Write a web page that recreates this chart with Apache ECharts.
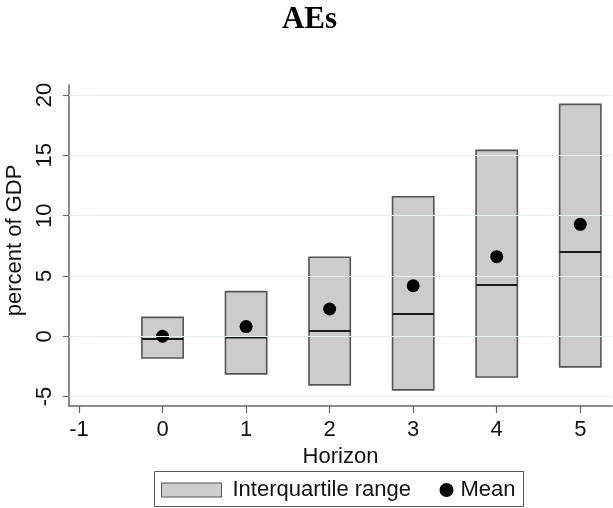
<!DOCTYPE html>
<html>
<head>
<meta charset="utf-8">
<script src="https://cdn.jsdelivr.net/npm/echarts@6/dist/echarts.min.js"></script>
<style>
html,body{margin:0;padding:0;background:#fff;}
#chart{width:613px;height:508px;}
</style>
</head>
<body>
<div id="chart"></div>
<script>
// ---- data ----
const horizons = [0, 1, 2, 3, 4, 5];
const q1Values = [-1.80, -3.12, -4.03, -4.44, -3.37, -2.54];
const medianValues = [-0.22, -0.11, 0.44, 1.85, 4.25, 6.98];
const q3Values = [1.57, 3.70, 6.55, 11.57, 15.41, 19.22];
const meanValues = [0.00, 0.80, 2.26, 4.19, 6.60, 9.28];
const xTickLabels = [-1, 0, 1, 2, 3, 4, 5];
const yTickLabels = [-5, 0, 5, 10, 15, 20];
const titleText = 'AEs';
const xName = 'Horizon';
const yName = 'percent of GDP';
const iqrName = 'Interquartile range';
const meanName = 'Mean';

// ---- build ----
const FONT = "'Liberation Sans', Arial, sans-serif";
const BOX_HALF = 0.247;
const boxData = horizons.map((h, i) => [h, q1Values[i], medianValues[i], q3Values[i]]);
const meanData = horizons.map((h, i) => [h, meanValues[i]]);

const chart = echarts.init(document.getElementById('chart'), null, {renderer: 'canvas'});
chart.setOption({
  animation: false,
  backgroundColor: '#ffffff',
  title: {
    text: titleText,
    left: 309.5,
    textAlign: 'center',
    top: 4,
    padding: 0,
    textStyle: {fontFamily: "'Liberation Serif', 'Times New Roman', serif", fontWeight: 'bold', fontSize: 31, color: '#000'}
  },
  grid: {left: 69, right: 1, top: 85, bottom: 102, containLabel: false, outerBoundsMode: 'none'},
  xAxis: {
    type: 'value',
    min: -1.12, max: 5.38,
    name: xName,
    nameLocation: 'middle',
    nameGap: 35,
    nameTextStyle: {fontFamily: FONT, fontSize: 22, color: '#111'},
    axisLine: {show: true, onZero: false, lineStyle: {color: '#666', width: 1.5}},
    axisTick: {show: true, length: 7, customValues: xTickLabels, lineStyle: {color: '#666', width: 1.2}},
    axisLabel: {show: true, customValues: xTickLabels, margin: 13, fontFamily: FONT, fontSize: 22, color: '#111'},
    splitLine: {show: false}
  },
  yAxis: {
    type: 'value',
    min: -5.78, max: 20.83,
    name: yName,
    nameLocation: 'middle',
    nameRotate: 90,
    nameGap: 32,
    nameTextStyle: {fontFamily: FONT, fontSize: 22, color: '#111', padding: [0, 0, 0, 10]},
    axisLine: {show: true, onZero: false, lineStyle: {color: '#666', width: 1.5}},
    axisTick: {show: true, length: 6, customValues: yTickLabels, lineStyle: {color: '#666', width: 1.2}},
    axisLabel: {show: true, customValues: yTickLabels, rotate: 90, margin: 13, fontFamily: FONT, fontSize: 22, color: '#111'},
    splitLine: {show: false}
  },
  legend: [
    {
      data: [{name: iqrName, icon: 'rect', itemStyle: {color: '#cccccc', borderColor: '#555', borderWidth: 1}}],
      left: 161, top: 479, padding: 0,
      itemWidth: 60, itemHeight: 14,
      textStyle: {fontFamily: FONT, fontSize: 22, color: '#111', padding: [0, 0, 0, 6]},
      selectedMode: false
    },
    {
      data: [{name: meanName, icon: 'circle', itemStyle: {color: '#000', opacity: 1}}],
      left: 439.5, top: 479, padding: 0,
      itemWidth: 14, itemHeight: 14,
      textStyle: {fontFamily: FONT, fontSize: 22, color: '#111', padding: [0, 0, 0, 2]},
      selectedMode: false
    }
  ],
  graphic: [{
    type: 'rect',
    shape: {x: 154.5, y: 471.5, width: 369, height: 35},
    style: {fill: 'none', stroke: '#555', lineWidth: 1},
    silent: true, z: 0
  }],
  series: [
    {
      type: 'line',
      name: 'grid',
      data: [],
      z: 1,
      silent: true,
      markLine: {
        silent: true,
        symbol: 'none',
        label: {show: false},
        lineStyle: {color: '#e8f0f2', width: 1.2, type: 'solid'},
        data: yTickLabels.map(v => ({yAxis: v}))
      }
    },
    {
      type: 'custom',
      name: iqrName,
      z: 3,
      itemStyle: {color: '#cccccc'},
      data: boxData,
      encode: {x: 0, y: [1, 2, 3]},
      renderItem: function (params, api) {
        const x = api.value(0), lo = api.value(1), md = api.value(2), hi = api.value(3);
        const a = api.coord([x - BOX_HALF, hi]);
        const b = api.coord([x + BOX_HALF, lo]);
        const m1 = api.coord([x - BOX_HALF, md]);
        const m2 = api.coord([x + BOX_HALF, md]);
        return {
          type: 'group',
          children: [
            {type: 'rect', shape: {x: a[0], y: a[1], width: b[0] - a[0], height: b[1] - a[1]},
             style: {fill: '#cccccc', stroke: '#555', lineWidth: 1.6}},
            {type: 'line', shape: {x1: m1[0], y1: m1[1], x2: m2[0], y2: m2[1]},
             style: {stroke: '#1a1a1a', lineWidth: 2}}
          ]
        };
      }
    },
    {
      type: 'scatter',
      name: meanName,
      z: 4,
      symbol: 'circle',
      symbolSize: 13,
      itemStyle: {color: '#000', opacity: 1},
      data: meanData
    }
  ]
});
</script>
</body>
</html>
